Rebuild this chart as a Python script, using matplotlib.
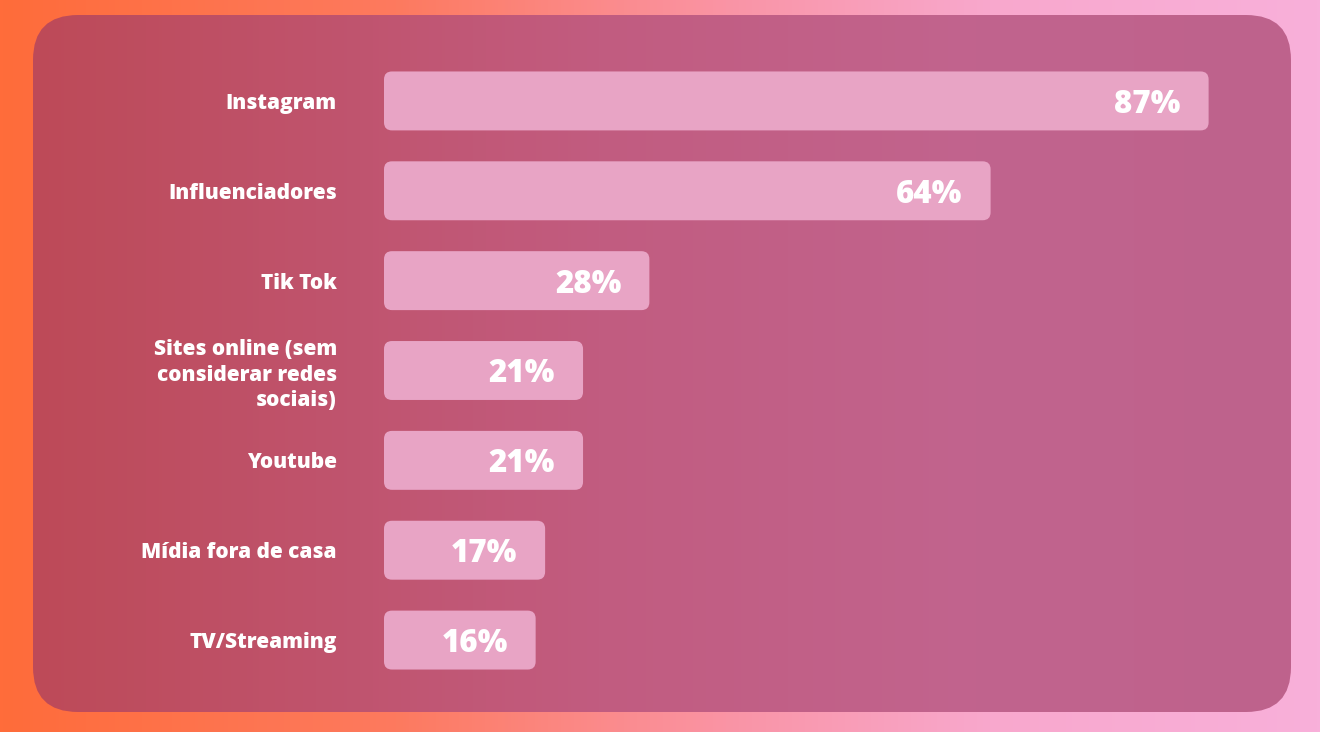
import numpy as np
import matplotlib.pyplot as plt
from matplotlib.patches import FancyBboxPatch

# dados
categorias = ["Instagram", "Influenciadores", "Tik Tok",
              "Sites online (sem\nconsiderar redes\nsociais)",
              "Youtube", "Mídia fora de casa", "TV/Streaming"]
valores = [87, 64, 28, 21, 21, 17, 16]
rotulos = ["87%", "64%", "28%", "21%", "21%", "17%", "16%"]

W, H = 1320, 732
FONTE = "Open Sans"


def gradiente(cores, n=400):
    """gradiente horizontal simples a partir de (pos, rgb)"""
    xs = np.linspace(0, 1, n)
    pos = [c[0] for c in cores]
    rgb = np.array([c[1] for c in cores]) / 255.0
    out = np.zeros((1, n, 3))
    for k in range(3):
        out[0, :, k] = np.interp(xs, pos, rgb[:, k])
    return out


fig = plt.figure(figsize=(W / 100, H / 100), dpi=100)

# fundo
ax_bg = fig.add_axes([0, 0, 1, 1])
ax_bg.set_xlim(0, W)
ax_bg.set_ylim(H, 0)
ax_bg.axis("off")
fundo = gradiente([(0, (255, 108, 58)), (0.3, (253, 122, 95)),
                   (0.55, (250, 148, 165)), (0.75, (248, 168, 205)),
                   (1, (248, 176, 218))])
ax_bg.imshow(fundo, extent=[0, W, H, 0], aspect="auto", zorder=0)

# painel arredondado
painel = FancyBboxPatch((33, 15), 1258, 697,
                        boxstyle="round,pad=0,rounding_size=45",
                        facecolor="none", edgecolor="none")
ax_bg.add_patch(painel)
cor_painel = gradiente([(0, (189, 74, 88)), (0.45, (194, 92, 128)),
                        (0.75, (193, 100, 142)), (1, (190, 98, 140))])
img = ax_bg.imshow(cor_painel, extent=[33, 1291, 712, 15], aspect="auto", zorder=1)
img.set_clip_path(painel)

# barras
x0, x1 = 384, 1256
y_top, y_bot = 56, 685
ax = fig.add_axes([x0 / W, (H - y_bot) / H, (x1 - x0) / W, (y_bot - y_top) / H])
ax.patch.set_alpha(0)
ax.set_xlim(0, 92)
ax.set_ylim(len(categorias) - 0.5, -0.5)

y = np.arange(len(categorias))
barras = ax.barh(y, valores, height=0.656, color="none")

px_x = (x1 - x0) / 92
px_y = (y_bot - y_top) / len(categorias)
raio = 8 / px_x
for b in barras:
    p = FancyBboxPatch((b.get_x(), b.get_y()), b.get_width(), b.get_height(),
                       boxstyle=f"round,pad=0,rounding_size={raio}",
                       mutation_aspect=px_x / px_y,
                       facecolor="#E8A4C5", edgecolor="none")
    ax.add_patch(p)

for b, txt in zip(barras, rotulos):
    ax.annotate(txt, (b.get_width(), b.get_y() + b.get_height() / 2),
                xytext=(-28, 0), textcoords="offset pixels",
                ha="right", va="center_baseline", color="white",
                fontsize=22.5, fontweight="heavy", family=FONTE)

ax.set_yticks(y)
ax.set_yticklabels(categorias, fontsize=15, fontweight="heavy", family=FONTE,
                   color="white", linespacing=1.27)
ax.tick_params(axis="y", length=0, pad=34)
ax.set_xticks([])
for s in ax.spines.values():
    s.set_visible(False)

fig.savefig("out.png", dpi=100)
